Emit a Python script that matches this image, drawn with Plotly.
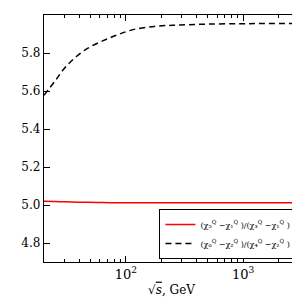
import plotly.graph_objects as go

sqrt_s = [20, 25, 30, 38, 47.5, 64, 85, 115, 175, 250, 340, 500, 900, 1500, 3000]
ratio_531 = [5.020, 5.018, 5.017, 5.015, 5.014, 5.013, 5.012, 5.012, 5.012, 5.012, 5.012, 5.012, 5.012, 5.012, 5.012]
ratio_642 = [5.578, 5.655, 5.721, 5.783, 5.826, 5.865, 5.896, 5.923, 5.940, 5.946, 5.949, 5.952, 5.954, 5.955, 5.956]

name1 = "(χ₅<sup>Q</sup> −χ₁<sup>Q</sup> )/(χ₃<sup>Q</sup> −χ₁<sup>Q</sup> )"
name2 = "(χ₆<sup>Q</sup> −χ₂<sup>Q</sup> )/(χ₄<sup>Q</sup> −χ₂<sup>Q</sup> )"

x_major = [100, 1000]
x_major_text = ["10<sup>2</sup>", "10<sup>3</sup>"]
x_minor = [20, 30, 40, 50, 60, 70, 80, 90, 200, 300, 400, 500, 600, 700, 800, 900, 2000, 3000]
y_ticks = [4.8, 5.0, 5.2, 5.4, 5.6, 5.8]

fig = go.Figure()
fig.add_trace(go.Scatter(x=sqrt_s, y=ratio_531, mode="lines", name=name1,
                         line=dict(color="#ff0000", width=1.5), line_shape="spline"))
fig.add_trace(go.Scatter(x=sqrt_s, y=ratio_642, mode="lines", name=name2,
                         line=dict(color="black", width=1.5, dash="6px,4px"), line_shape="spline"))

fig.update_layout(
    width=300, height=305,
    margin=dict(l=36, r=9, t=7, b=51),
    paper_bgcolor="white", plot_bgcolor="white",
    font=dict(family="DejaVu Serif", size=12, color="black"),
    showlegend=True,
    legend=dict(x=0.99, y=0.012, xanchor="right", yanchor="bottom",
                bordercolor="black", borderwidth=1, bgcolor="white",
                font=dict(size=8, family="DejaVu Serif"),
                tracegroupgap=0, itemwidth=30),
    xaxis=dict(type="log", range=[1.301, 3.477], showgrid=False, zeroline=False,
               showline=True, linecolor="black", linewidth=1.3, mirror="ticks",
               ticks="inside", ticklen=6, tickcolor="black", tickwidth=1,
               tickvals=x_major, ticktext=x_major_text,
               tickfont=dict(size=13, family="DejaVu Serif"),
               minor=dict(tickvals=x_minor, ticks="inside", ticklen=3, tickcolor="black", tickwidth=1, showgrid=False),
               title=dict(text="√<span style='text-decoration:overline'><i>s</i></span>, GeV",
                          font=dict(size=12, family="DejaVu Serif"), standoff=4)),
    yaxis=dict(range=[4.7, 6.0], showgrid=False, zeroline=False,
               showline=True, linecolor="black", linewidth=1.3, mirror="ticks",
               ticks="inside", ticklen=6, tickcolor="black", tickwidth=1,
               tickvals=y_ticks, ticktext=[f"{v:.1f}" for v in y_ticks],
               tickfont=dict(size=12, family="DejaVu Serif")),
)

fig.write_html("out.html")
